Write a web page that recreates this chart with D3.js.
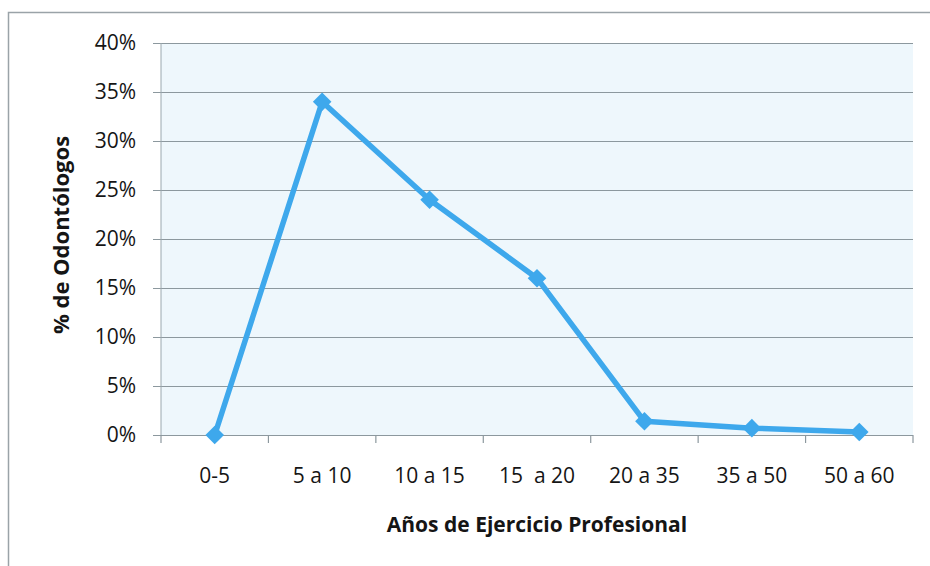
<!DOCTYPE html>
<html>
<head>
<meta charset="utf-8">
<script src="https://cdn.jsdelivr.net/npm/d3@7"></script>
<style>
  body { margin: 0; background: #fff; }
  text { font-family: 'Open Sans', sans-serif; fill: #151515; }
</style>
</head>
<body>
<script>
// categories and values (percent)
const categories = ['0-5', '5 a 10', '10 a 15', '15  a 20', '20 a 35', '35 a 50', '50 a 60'];
const values = [0, 34, 24, 16, 1.4, 0.7, 0.3];
const yTicks = [0, 5, 10, 15, 20, 25, 30, 35, 40];

const W = 930;
const H = 566;
const margin = {
  top: 43, right: 17, bottom: 131, left: 161,
};
const width = W - margin.left - margin.right;
const height = H - margin.top - margin.bottom;

const root = d3.select('body')
  .append('svg')
  .attr('width', W)
  .attr('height', H);

// outer chart frame
root.append('path')
  .attr('d', `M8.5,${H}V12.5H${W}`)
  .attr('fill', 'none')
  .attr('stroke', '#9aa3a8')
  .attr('stroke-width', 1.5);

const svg = root.append('g')
  .attr('transform', `translate(${margin.left},${margin.top})`);

const xScale = d3.scaleBand()
  .domain(categories)
  .range([0, width]);

const yScale = d3.scaleLinear()
  .domain([0, 40])
  .range([height, 0]);

svg.append('rect')
  .attr('width', width)
  .attr('height', height)
  .attr('fill', '#eef7fc');

// gridlines + y labels
svg.append('g')
  .attr('class', 'y axis')
  .call(d3.axisLeft(yScale)
    .tickValues(yTicks)
    .tickSize(-width - 8)
    .tickPadding(25)
    .tickFormat((d) => `${d}%`))
  .call((g) => g.select('.domain').remove())
  .call((g) => g.selectAll('.tick line')
    .attr('x1', -8)
    .attr('x2', width)
    .attr('stroke', '#8c989e')
    .attr('stroke-width', 1.2))
  .call((g) => g.selectAll('.tick text')
    .style('font-size', '21px')
    .style('font-family', "'Open Sans', sans-serif")
    .attr('fill', '#151515'));

// left axis line
svg.append('line')
  .attr('x1', 0)
  .attr('x2', 0)
  .attr('y1', 0)
  .attr('y2', height)
  .attr('stroke', '#9aa8ae')
  .attr('stroke-width', 1);

// x axis: ticks on band boundaries
const boundaries = categories.map((c) => xScale(c)).concat([width]);
svg.append('g')
  .selectAll('line')
  .data(boundaries)
  .enter().append('line')
  .attr('x1', (d) => d)
  .attr('x2', (d) => d)
  .attr('y1', height)
  .attr('y2', height + 8)
  .attr('stroke', '#8c989e')
  .attr('stroke-width', 1.2);

svg.append('g')
  .selectAll('text')
  .data(categories)
  .enter().append('text')
  .attr('x', (d) => xScale(d) + xScale.bandwidth() / 2)
  .attr('y', height + 48)
  .attr('text-anchor', 'middle')
  .style('font-size', '21px')
  .style('white-space', 'pre')
  .text((d) => d);

const line = d3.line()
  .x((d, i) => xScale(categories[i]) + xScale.bandwidth() / 2)
  .y((d) => yScale(d));

svg.append('path')
  .datum(values)
  .attr('d', line)
  .attr('fill', 'none')
  .attr('stroke', '#3ea8ec')
  .attr('stroke-width', 5.5)
  .attr('stroke-linejoin', 'round');

svg.selectAll('.marker')
  .data(values)
  .enter().append('path')
  .attr('class', 'marker')
  .attr('d', d3.symbol().type(d3.symbolDiamond2).size(220))
  .attr('transform', (d, i) => `translate(${xScale(categories[i]) + xScale.bandwidth() / 2},${yScale(d)})`)
  .attr('fill', '#3ea8ec');

svg.append('text')
  .attr('x', width / 2)
  .attr('y', height + 97)
  .attr('text-anchor', 'middle')
  .style('font-size', '21px')
  .style('font-weight', 'bold')
  .text('Años de Ejercicio Profesional');

svg.append('text')
  .attr('transform', `translate(${-92},${height / 2 - 4}) rotate(-90)`)
  .attr('text-anchor', 'middle')
  .style('font-size', '22px')
  .style('font-weight', 'bold')
  .text('% de Odontólogos');
</script>
</body>
</html>
